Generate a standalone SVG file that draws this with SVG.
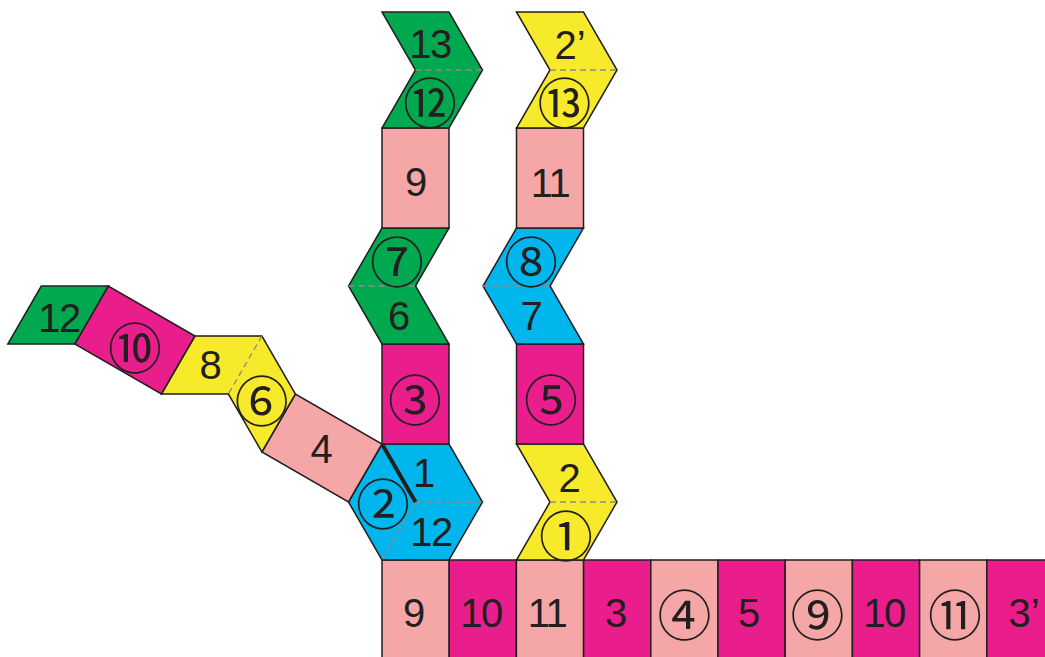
<svg xmlns="http://www.w3.org/2000/svg" width="1045" height="657" viewBox="0 0 1045 657">
<style>
.p{stroke:#231f20;stroke-width:1.5;stroke-linejoin:miter}
.green{fill:#00a84f}.pink{fill:#f4a7a6}.mag{fill:#e91d8c}.blue{fill:#00b6ed}.yel{fill:#f7ea2a}
.fold{stroke:#8a8a8a;stroke-width:1.3;stroke-dasharray:6 4;fill:none}
.cut{stroke:#231f20;stroke-width:4;stroke-linecap:butt}
.t{font-family:"Liberation Sans",Arial,sans-serif;font-size:40px;fill:#231f20;text-anchor:middle}
.n{letter-spacing:-1.5px}
.c{font-family:"Noto Sans CJK JP","DejaVu Sans",sans-serif;font-size:54px;fill:#231f20;text-anchor:middle;dominant-baseline:central}
</style>
<rect width="1045" height="657" fill="#fff"/>

<!-- bottom row -->
<g id="bottom-row">
<rect class="p pink" x="382" y="560" width="67.2" height="100"/>
<rect class="p mag" x="449.2" y="560" width="67.2" height="100"/>
<rect class="p pink" x="516.4" y="560" width="67.2" height="100"/>
<rect class="p mag" x="583.6" y="560" width="67.2" height="100"/>
<rect class="p pink" x="650.8" y="560" width="67.2" height="100"/>
<rect class="p mag" x="718" y="560" width="67.2" height="100"/>
<rect class="p pink" x="785.2" y="560" width="67.2" height="100"/>
<rect class="p mag" x="852.4" y="560" width="67.2" height="100"/>
<rect class="p pink" x="919.6" y="560" width="67.2" height="100"/>
<rect class="p mag" x="986.8" y="560" width="67.2" height="100"/>
<text class="t" x="414" y="626.5">9</text>
<text class="t n" x="481" y="626.5">10</text>
<text class="t n" x="547" y="626.5">11</text>
<text class="t" x="616" y="626.5">3</text>
<text class="c" x="684.5" y="612.5">④</text>
<text class="t" x="749" y="626.5">5</text>
<text class="c" x="817.5" y="612.5">⑨</text>
<text class="t n" x="884" y="626.5">10</text>
<text class="c" x="955" y="612.5">⑪</text>
<text class="t" x="1024" y="626.5">3’</text>
</g>

<!-- column 1 -->
<g id="hexagon">
<polygon class="p blue" points="382,444 449,444 482.5,502 449,560 382,560 348.5,502"/>
<line class="fold" x1="415.5" y1="502" x2="482.5" y2="502"/>
<line class="fold" x1="415.5" y1="502" x2="382" y2="560"/>
<line class="cut" x1="382" y1="444" x2="415.5" y2="502"/>
<text class="t" x="424" y="487.3">1</text>
<text class="c" x="383" y="501">②</text>
<text class="t n" x="431" y="546.3">12</text>
</g>
<g id="node-c3">
<rect class="p mag" x="382" y="344" width="67" height="100"/>
<text class="c" x="415" y="397">③</text>
</g>
<g id="node-6-c7">
<polygon class="p green" points="382,228 449,228 415.5,286 449,344 382,344 348.5,286"/>
<line class="fold" x1="348.5" y1="286" x2="415.5" y2="286"/>
<text class="c" x="397" y="259.5">⑦</text>
<text class="t" x="399" y="330.3">6</text>
</g>
<g id="node-9">
<rect class="p pink" x="382" y="128" width="67" height="100"/>
<text class="t" x="416" y="196.3">9</text>
</g>
<g id="node-13-c12">
<polygon class="p green" points="382,12 449,12 482.5,70 449,128 382,128 415.5,70"/>
<line class="fold" x1="415.5" y1="70" x2="482.5" y2="70"/>
<text class="t n" x="430" y="58.3">13</text>
<text class="c" x="430" y="100">⑫</text>
</g>

<!-- column 2 -->
<g id="node-2-c1">
<polygon class="p yel" points="516.5,444 583.5,444 617,502 583.5,560 516.5,560 550,502"/>
<line class="fold" x1="550" y1="502" x2="617" y2="502"/>
<text class="t" x="569.5" y="491.8">2</text>
<text class="c" x="566" y="533">①</text>
</g>
<g id="node-c5">
<rect class="p mag" x="516.5" y="344" width="67" height="100"/>
<text class="c" x="551" y="397">⑤</text>
</g>
<g id="node-7-c8">
<polygon class="p blue" points="516.5,228 583.5,228 550,286 583.5,344 516.5,344 483,286"/>
<line class="fold" x1="483" y1="286" x2="550" y2="286"/>
<text class="c" x="531" y="259.5">⑧</text>
<text class="t" x="531.5" y="330.3">7</text>
</g>
<g id="node-11">
<rect class="p pink" x="516.5" y="128" width="67" height="100"/>
<text class="t n" x="550" y="197">11</text>
</g>
<g id="node-2p-c13">
<polygon class="p yel" points="516.5,12 583.5,12 617,70 583.5,128 516.5,128 550,70"/>
<line class="fold" x1="550" y1="70" x2="617" y2="70"/>
<text class="t" x="570" y="59.3">2’</text>
<text class="c" x="564.5" y="100">⑬</text>
</g>

<!-- left arm -->
<g id="node-4">
<polygon class="p pink" points="382,444 348.5,502 261.9,452 295.4,394"/>
<text class="t" x="321.7" y="463.3">4</text>
</g>
<g id="node-8-c6">
<polygon class="p yel" points="295.4,394 261.9,452 228.4,394 161.4,394 194.9,336 261.9,336"/>
<line class="fold" x1="261.9" y1="336" x2="228.4" y2="394"/>
<text class="t" x="210.5" y="379.3">8</text>
<text class="c" x="261.7" y="398.3">⑥</text>
</g>
<g id="node-c10">
<polygon class="p mag" points="194.9,336 108.3,286 74.8,344 161.4,394"/>
<text class="c" x="135" y="345">⑩</text>
</g>
<g id="node-12">
<polygon class="p green" points="108.3,286 74.8,344 7.8,344 41.3,286"/>
<text class="t n" x="59" y="331.8">12</text>
</g>

<g id="connectors"></g>
</svg>
